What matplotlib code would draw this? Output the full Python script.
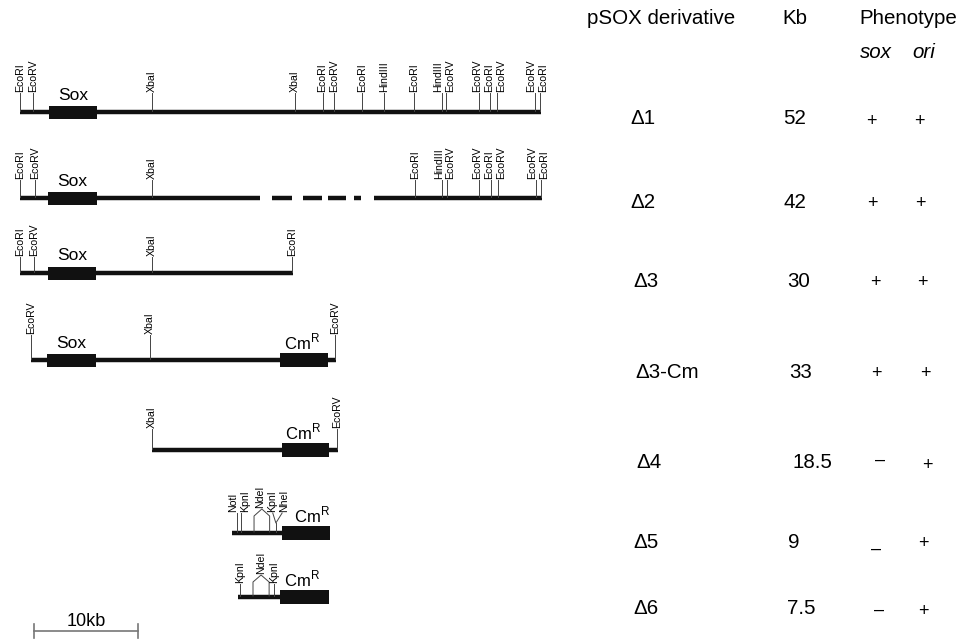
import matplotlib
matplotlib.use("Agg")
import matplotlib.pyplot as plt

plt.rcParams["font.family"] = ["Liberation Sans", "DejaVu Sans"]
plt.rcParams["mathtext.fontset"] = "custom"
plt.rcParams["mathtext.rm"] = "Liberation Sans"

W, H = 966, 639
PX_PER_KB = 10.4
X0 = 19  # pixel of map position 0

# ─── map data (positions in kb along the map) ───
row_names = ["Δ1", "Δ2", "Δ3", "Δ3-Cm", "Δ4", "Δ5", "Δ6"]
row_kb = ["52", "42", "30", "33", "18.5", "9", "7.5"]
row_sox = ["+", "+", "+", "+", "–", "_", "–"]
row_ori = ["+", "+", "+", "+", "+", "+", "+"]

segments = [
    [(0.1, 50.2)],
    [(0.1, 23.2), (24.3, 26.25), (27.3, 29.1), (29.7, 31.4), (32.2, 32.9), (34.1, 50.3)],
    [(0.1, 26.3)],
    [(1.15, 30.5)],
    [(12.8, 30.7)],
    [(20.5, 26.0)],
    [(21.05, 26.0)],
]
sox_gene = [(2.9, 7.5), (2.8, 7.5), (2.8, 7.4), (2.7, 7.4), None, None, None]
cm_gene = [None, None, None, (25.1, 29.7), (25.3, 29.8), (25.3, 29.9), (25.1, 29.8)]

sites = [
    [("EcoRI", 0.1), ("EcoRV", 1.35), ("XbaI", 12.8), ("XbaI", 26.5), ("EcoRI", 29.2),
     ("EcoRV", 30.3), ("EcoRI", 33.0), ("HindIII", 35.1), ("EcoRI", 38.0), ("HindIII", 40.7),
     ("EcoRV", 41.1), ("EcoRV", 44.2), ("EcoRI", 45.3), ("EcoRV", 46.0), ("EcoRV", 49.6),
     ("EcoRI", 50.1)],
    [("EcoRI", 0.1), ("EcoRV", 1.55), ("XbaI", 12.8), ("EcoRI", 38.1), ("HindIII", 40.7),
     ("EcoRV", 41.15), ("EcoRV", 44.2), ("EcoRI", 45.4), ("EcoRV", 46.05), ("EcoRV", 49.7),
     ("EcoRI", 50.2)],
    [("EcoRI", 0.1), ("EcoRV", 1.45), ("XbaI", 12.8), ("EcoRI", 26.25)],
    [("EcoRV", 1.15), ("XbaI", 12.6), ("EcoRV", 30.4)],
    [("XbaI", 12.8), ("EcoRV", 30.6)],
    [("NotI", 20.95), ("KpnI", 21.35)],
    [("KpnI", 21.25), ("KpnI", 24.5)],
]
# NdeI flanking pairs drawn as a "house", KpnI/NheI drawn as a fork
ndei_pair = [None, None, None, None, None, (22.6, 24.1), (22.5, 24.05)]
fork = [None, None, None, None, None, (24.7, 24.4, 25.3), None]

# ─── layout (pixels) ───
row_y = [112, 198, 273, 360, 450, 533, 597]
tick_len = [19, 18, 16, 25, 21, 20, 13]
cm_dx = [0, 0, 0, -0.2, -0.2, 0.6, -0.2]  # kb nudge of the CmR label
name_x = [630, 630, 633, 635, 636, 633, 633]
name_y = [118, 202, 282, 372, 462, 542, 608]
kb_x = [783, 783, 787, 789, 792, 788, 787]
sox_x = [871, 872, 875, 876, 880, 876, 879]
sox_y = [121, 204, 283, 373, 460, 549, 610]
ori_x = [919, 920, 922, 925, 927, 923, 923]
ori_y = [121, 204, 283, 373, 465, 543, 612]

SITE_FS = 7.6
TABLE_FS = 14.8
LABEL_GAP = 1.15  # kb, min spacing between rotated site labels


def spread(positions, gap):
    # push overlapping labels apart, keeping each cluster centred on its sites
    order = sorted(range(len(positions)), key=lambda k: positions[k])
    clusters = []
    for k in order:
        clusters.append([k])
        while len(clusters) > 1:
            prev, cur = clusters[-2], clusters[-1]
            c_prev = sum(positions[j] for j in prev) / len(prev)
            start_prev = c_prev - gap * (len(prev) - 1) / 2
            c_cur = sum(positions[j] for j in cur) / len(cur)
            start_cur = c_cur - gap * (len(cur) - 1) / 2
            if start_cur < start_prev + gap * len(prev) - 1e-9:
                clusters[-2] = prev + cur
                clusters.pop()
            else:
                break
    out = [0.0] * len(positions)
    for cl in clusters:
        c = sum(positions[j] for j in cl) / len(cl)
        s = c - gap * (len(cl) - 1) / 2
        for m, j in enumerate(cl):
            out[j] = s + m * gap
    return out


fig = plt.figure(figsize=(W / 100, H / 100), dpi=100)
ax = fig.add_axes([0, 0, 1, 1])
ax.set_xlim(-X0 / PX_PER_KB, (W - X0) / PX_PER_KB)
ax.set_ylim(H, 0)
ax.axis("off")

LINE_C = "#111111"
TICK_C = "#444444"

for i, y in enumerate(row_y):
    for a, b in segments[i]:
        ax.plot([a, b], [y, y], color=LINE_C, lw=3.2, solid_capstyle="butt")
    if sox_gene[i]:
        a, b = sox_gene[i]
        ax.barh(y, b - a, left=a, height=13, color=LINE_C)
        ax.text((a + b) / 2, y - 17, "Sox", ha="center", va="center", fontsize=12.5)
    if cm_gene[i]:
        a, b = cm_gene[i]
        ax.barh(y, b - a, left=a, height=14, color=LINE_C)
        ax.text((a + b) / 2 + cm_dx[i], y - 18, r"Cm$^{\mathrm{R}}$", ha="center",
                va="center", fontsize=12)

    top = y - tick_len[i]
    labels = []  # (name, x, bottom)
    for name, pos in sites[i]:
        ax.plot([pos, pos], [y - 1, top], color=TICK_C, lw=0.7)
        labels.append((name, pos, top - 1))
    if ndei_pair[i]:
        a, b = ndei_pair[i]
        leg = y - 17 if i == 5 else y - 15
        peak = leg - 7
        m = (a + b) / 2
        ax.plot([a, a, m, b, b], [y - 1, leg, peak, leg, y - 1], color=TICK_C, lw=0.7)
        labels.append(("NdeI", m, peak - 1))
    if fork[i]:
        s, l, r = fork[i]
        ax.plot([s, s], [y - 1, y - 10], color=TICK_C, lw=0.7)
        ax.plot([l, s, r], [y - 20, y - 10, y - 20], color=TICK_C, lw=0.7)
        labels.append(("KpnI", l, y - 21))
        labels.append(("NheI", r, y - 21))

    lab_x = spread([p for _, p, _ in labels], LABEL_GAP)
    for (name, _, bottom), lx in zip(labels, lab_x):
        ax.text(lx, bottom, name, rotation=90, ha="center", va="bottom", fontsize=SITE_FS)

# scale bar
SCALE_KB = 10
sb_left = 1.45
ax.plot([sb_left, sb_left + SCALE_KB], [631, 631], color="#777777", lw=1.2)
for xx in (sb_left, sb_left + SCALE_KB):
    ax.plot([xx, xx], [624, 638], color="#777777", lw=1.2)
ax.text(sb_left + SCALE_KB / 2, 622, "10kb", ha="center", va="center", fontsize=13)


# ─── right-hand table ───
def ftext(x, y, s, **kw):
    fig.text(x / W, 1 - y / H, s, **kw)


ftext(587, 19, "pSOX derivative", ha="left", va="center", fontsize=TABLE_FS)
ftext(782, 19, "Kb", ha="left", va="center", fontsize=TABLE_FS)
ftext(859, 19, "Phenotype", ha="left", va="center", fontsize=TABLE_FS)
ftext(860, 53, "sox", ha="left", va="center", fontsize=TABLE_FS, style="italic")
ftext(912, 53, "ori", ha="left", va="center", fontsize=TABLE_FS, style="italic")

for i in range(len(row_names)):
    ftext(name_x[i], name_y[i], row_names[i], ha="left", va="center", fontsize=TABLE_FS)
    ftext(kb_x[i], name_y[i], row_kb[i], ha="left", va="center", fontsize=TABLE_FS)
    s = row_sox[i].replace("_", "–")
    ftext(sox_x[i], sox_y[i], s, ha="center", va="center", fontsize=13)
    ftext(ori_x[i], ori_y[i], row_ori[i], ha="center", va="center", fontsize=13)

fig.savefig("out.png", dpi=100, facecolor="white")
